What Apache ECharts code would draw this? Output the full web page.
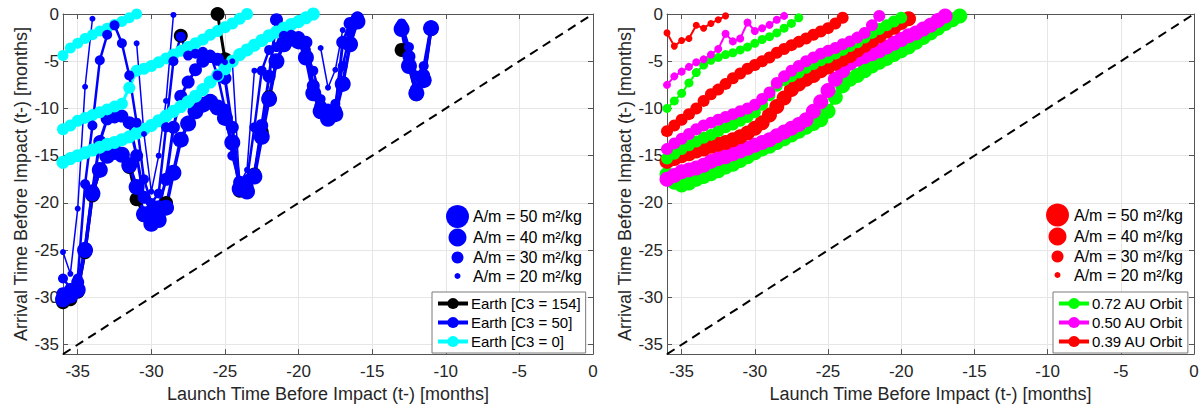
<!DOCTYPE html>
<html><head><meta charset="utf-8">
<script src="https://cdn.jsdelivr.net/npm/echarts@6/dist/echarts.min.js"></script>
<style>html,body{margin:0;padding:0;background:#fff}#c{width:1203px;height:408px}</style>
</head><body><div id="c"></div>
<script>
// ---------- data ----------
const launchLeft = [-36,-35.5,-35,-34.5,-34,-33.5,-33,-32.5,-32,-31.5,-31,-30.5,-30,-29.5,-29,-28.5,-28,-27.5,-27,-26.5,-26,-25.5,-25,-24.5,-24,-23.5,-23,-22.5,-22,-21.5,-21,-20.5,-20,-19.5,-19,-18.5,-18,-17.5,-17,-16.5,-16,-15.5,-15,-14.5,-14,-13.5,-13,-12.5,-12,-11.5,-11];
const launchRight = [-36,-35.5,-35,-34.5,-34,-33.5,-33,-32.5,-32,-31.5,-31,-30.5,-30,-29.5,-29,-28.5,-28,-27.5,-27,-26.5,-26,-25.5,-25,-24.5,-24,-23.5,-23,-22.5,-22,-21.5,-21,-20.5,-20,-19.5,-19,-18.5,-18,-17.5,-17,-16.5,-16];
const diagonal = [-36, 0];

// Left: Earth departures
const earthC3_0_a = [-4.4,-3.6,-3.1,-2.6,-2.2,-1.8,-1.5,-1.1,-0.8,-0.4,0.0];
const earthC3_0_b = [-12.2,-11.8,-11.3,-11.0,-10.7,-10.4,-10.1,-9.8,-9.5,-7.8,-6.0,-5.8,-5.5,-5.1,-4.7,-4.3,-3.9,-3.5,-3.1,-2.7,-2.2,-1.8,-1.4,-1.0,-0.5,0.0];
const earthC3_0_c = [-15.7,-15.3,-15.0,-14.7,-14.4,-14.1,-13.8,-13.6,-13.3,-13.0,-12.6,-12.2,-11.8,-11.3,-10.8,-10.3,-9.8,-9.3,-8.7,-8.0,-7.2,-6.5,-5.8,-5.0,-4.3,-3.8,-3.3,-2.8,-2.3,-1.9,-1.5,-1.1,-0.8,-0.4,0.0];
const earthC3_154 = [-30.5,-30.2,-29.4,-25.2,-19.2,-16.5,-15.0,-14.6,-14.9,-16.2,-19.6,-21.3,-22.0,-21.5,-20.0,null,-2.3,null,null,null,null,0.0,-4.8,null,-18.7,-18.6,-17.0,-12.5,-8.8,-5.0,null,null,null,null,null,null,null,null,null,null,null,null,null,null,null,null,-3.8,-5.5,-8.5,-7.0,-1.6];
const earthC3_50_am50 = [-30.2,-29.8,-29.2,-25.0,-19.0,-16.5,-15.0,-14.6,-14.9,-16.0,-18.3,-21.2,-22.2,-21.8,-20.5,-16.8,-13.3,-11.6,-10.3,-9.6,-9.3,-9.9,-11.0,-13.6,-18.5,-18.8,-17.2,-13.0,-9.0,-5.0,-3.2,-2.6,-2.9,-4.6,-8.4,-10.3,-11.1,-10.6,-7.4,-3.2,-0.8,null,null,null,null,null,-1.6,-5.5,-8.4,-7.0,-1.5];
const earthC3_50_am40 = [-29.6,-29.2,-28.4,-24.8,-18.7,-13.5,-11.1,-10.9,-10.8,-11.5,-15.0,-19.4,-20.8,-20.4,-17.5,-12.0,-8.7,-7.2,-5.9,-5.0,-4.5,-4.8,-6.8,-12.0,-17.8,-18.2,-17.0,-11.8,-6.6,-0.6,-2.6,-2.4,-2.5,-3.0,-7.6,-9.8,-10.7,-10.2,-3.0,-1.0,-0.4,null,null,null,null,null,-1.3,-4.5,-8.0,-6.5,-1.4];
const earthC3_50_am30 = [-28.0,-29.0,-28.0,-18.0,-11.8,-4.9,-2.2,-1.2,-3.1,-6.5,-11.5,-17.5,-20.0,-19.0,-12.0,-5.0,-2.4,-4.4,-4.2,-4.0,-4.3,-6.5,-10.0,-15.0,-18.0,-17.5,-12.0,-6.0,-3.8,-3.5,-2.3,-2.2,-2.5,-3.8,-6.0,-9.0,-10.0,-9.5,-5.5,-2.0,null,null,null,null,null,null,-1.0,-3.5,-6.5,-5.5,-1.2];
const earthC3_50_am20 = [-25.2,-27.5,-20.6,-7.7,-0.5,null,null,null,null,null,-3.1,-12.7,-18.8,-15.0,-9.2,-0.1,null,null,null,null,-4.2,-4.8,-5.1,-5.0,-18.0,-16.5,-6.0,null,null,null,null,null,null,null,null,-3.6,-7.8,-5.9,-1.7];

// Right: heliocentric orbits
const orbit039_am20 = [-2.0,-3.4,-2.8,-2.6,-1.2,-1.5,-1.0,-0.6,-0.2];
const orbit050_am20 = [-7.5,-6.6,-6.1,-5.6,-5.1,-4.8,-4.3,-3.7,-2.1,-2.9,-2.6,-0.9,-1.8,-1.5,-1.15,-0.6,-0.2];
const orbit072_am20 = [-10.0,-9.2,-8.4,-7.3,-6.2,-5.4,-4.9,-4.6,-4.3,-4.1,-3.8,-3.5,-3.1,-2.7,-2.4,-2.0,-1.5,-1.0,-0.4];
const orbit039_am30 = [-12.4,-11.8,-11.2,-10.6,-10.0,-9.2,-8.5,-8.0,-7.4,-6.8,-6.3,-5.8,-5.4,-5.0,-4.6,-4.1,-3.7,-3.3,-2.95,-2.6,-2.2,-1.85,-1.5,-1.0,-0.4];
const orbit050_am30 = [-14.3,-13.7,-13.2,-12.7,-12.2,-11.8,-11.5,-11.2,-10.9,-10.6,-10.3,-10.0,-9.6,-9.0,-8.3,-7.3,-6.6,-6.0,-5.5,-5.0,-4.6,-4.2,-3.9,-3.6,-3.2,-2.9,-2.5,-2.0,-1.2,-0.2];
const orbit072_am30 = [-15.3,-14.8,-14.3,-13.9,-13.5,-13.1,-12.8,-12.4,-12.0,-11.7,-11.3,-10.9,-10.4,-9.6,-8.6,-7.6,-7.0,-6.6,-6.2,-5.7,-5.3,-4.9,-4.6,-4.2,-3.8,-3.4,-3.0,-2.5,-2.0,-1.6,-1.2,-0.8,-0.4];
const orbit039_am40 = [-15.6,-15.3,-15.0,-14.8,-14.5,-14.3,-14.0,-13.8,-13.6,-13.3,-13.0,-12.6,-12.1,-11.5,-10.7,-9.8,-8.9,-8.0,-7.4,-6.9,-6.5,-6.0,-5.6,-5.2,-4.8,-4.4,-3.8,-3.3,-2.8,-2.3,-1.8,-1.4,-0.9,-0.5];
const orbit050_am40 = [-17.5,-17.1,-16.7,-16.5,-16.3,-16.0,-15.6,-15.3,-15.1,-14.8,-14.5,-14.2,-13.9,-13.6,-13.3,-12.9,-12.5,-12.1,-11.7,-11.2,-10.3,-9.3,-8.1,-6.9,-6.0,-5.2,-4.8,-4.5,-4.2,-3.9,-3.5,-3.1,-2.7,-2.3,-2.0,-1.6,-1.2,-0.7,-0.2];
const orbit072_am40 = [-17.0,-17.8,-18.1,-17.9,-17.5,-17.2,-16.9,-16.6,-16.2,-15.9,-15.5,-15.1,-14.7,-14.3,-14.0,-13.6,-13.2,-12.8,-12.4,-12.0,-11.6,-11.2,-10.3,-8.8,-7.6,-6.9,-6.5,-6.0,-5.5,-5.1,-4.7,-4.3,-3.9,-3.5,-3.0,-2.5,-2.0,-1.5,-1.0,-0.6,-0.2];

const sizeLegendLabels = ['A/m = 50 m²/kg','A/m = 40 m²/kg','A/m = 30 m²/kg','A/m = 20 m²/kg'];
const leftLegend = ['Earth [C3 = 154]','Earth [C3 = 50]','Earth [C3 = 0]'];
const rightLegend = ['0.72 AU Orbit','0.50 AU Orbit','0.39 AU Orbit'];

// ---------- chart ----------
const FONT = '"Liberation Sans", Arial, Helvetica, sans-serif';
const TXT = '#262626';
const chart = echarts.init(document.getElementById('c'), null, {renderer: 'svg'});

function ser(name, xs, ys, color, size, width, gi) {
  return {
    type: 'line', name: name, xAxisIndex: gi * 2, yAxisIndex: gi * 2,
    data: xs.map((x, i) => [x, (i < ys.length && ys[i] !== null) ? ys[i] : null]),
    symbol: 'circle', symbolSize: size, showSymbol: true, showAllSymbol: true,
    connectNulls: false, clip: false, silent: true,
    lineStyle: {color: color, width: width},
    itemStyle: {color: color},
    emphasis: {disabled: true}, animation: false
  };
}
function diag(gi) {
  return {type: 'line', xAxisIndex: gi * 2, yAxisIndex: gi * 2,
    data: diagonal.map(v => [v, v]), symbol: 'none', silent: true, clip: true,
    lineStyle: {color: '#000', width: 2, type: [9, 6]}, animation: false, z: 3};
}

function xAx(gi, bottom) {
  return {
    type: 'value', gridIndex: gi, position: bottom ? 'bottom' : 'top', min: -36, max: 0, splitNumber: 7,
    name: bottom ? 'Launch Time Before Impact (t-) [months]' : '', nameLocation: 'middle', nameGap: 29,
    nameTextStyle: {fontFamily: FONT, fontSize: 18, color: TXT},
    axisLine: {show: true, onZero: false, lineStyle: {color: '#555', width: 1}},
    axisTick: {show: true, inside: true, length: 5, lineStyle: {color: '#555'}},
    axisLabel: {show: bottom, showMinLabel: false, fontFamily: FONT, fontSize: 17, color: TXT, margin: 9},
    splitLine: {show: bottom, lineStyle: {color: '#e6e6e6', width: 1}}
  };
}
function yAx(gi, left) {
  return {
    type: 'value', gridIndex: gi, position: left ? 'left' : 'right', min: -36, max: 0, splitNumber: 7,
    name: left ? 'Arrival Time Before Impact (t-) [months]' : '', nameLocation: 'middle', nameGap: 33,
    nameTextStyle: {fontFamily: FONT, fontSize: 18, color: TXT},
    axisLine: {show: true, onZero: false, lineStyle: {color: '#555', width: 1}},
    axisTick: {show: true, inside: true, length: 5, lineStyle: {color: '#555'}},
    axisLabel: {show: left, showMinLabel: false, fontFamily: FONT, fontSize: 17, color: TXT, margin: 4},
    splitLine: {show: left, lineStyle: {color: '#e6e6e6', width: 1}}
  };
}

const BLUE = '#0000ff', CYAN = '#00ffff', BLACK = '#000000', GREEN = '#00ff00', MAG = '#ff00ff', RED = '#ff0000';

const series = [
  ser(leftLegend[0], launchLeft, earthC3_154, BLACK, 14, 3, 0),
  ser(leftLegend[1], launchLeft, earthC3_50_am50, BLUE, 16, 3.5, 0),
  ser(leftLegend[1], launchLeft, earthC3_50_am40, BLUE, 13, 3, 0),
  ser(leftLegend[2], launchLeft, earthC3_0_a, CYAN, 11, 3, 0),
  ser(leftLegend[2], launchLeft, earthC3_0_b, CYAN, 12, 3, 0),
  ser(leftLegend[2], launchLeft, earthC3_0_c, CYAN, 13, 3, 0),
  ser(leftLegend[1], launchLeft, earthC3_50_am30, BLUE, 10, 2.5, 0),
  ser(leftLegend[1], launchLeft, earthC3_50_am20, BLUE, 6, 1.5, 0),
  diag(0),
  ser(rightLegend[0], launchRight, orbit072_am40, GREEN, 15, 3.5, 1),
  ser(rightLegend[1], launchRight, orbit050_am40, MAG, 15, 3.5, 1),
  ser(rightLegend[2], launchRight, orbit039_am40, RED, 15, 3.5, 1),
  ser(rightLegend[0], launchRight, orbit072_am30, GREEN, 12, 3, 1),
  ser(rightLegend[1], launchRight, orbit050_am30, MAG, 12, 3, 1),
  ser(rightLegend[2], launchRight, orbit039_am30, RED, 12, 3, 1),
  ser(rightLegend[0], launchRight, orbit072_am20, GREEN, 9, 2, 1),
  ser(rightLegend[1], launchRight, orbit050_am20, MAG, 8, 2, 1),
  ser(rightLegend[2], launchRight, orbit039_am20, RED, 7, 2, 1),
  diag(1)
];

function legendBox(data, left) {
  return {
    data: data, orient: 'vertical', left: left, top: 292,
    itemWidth: 30, itemHeight: 14, itemGap: 4,
    padding: [4, 5, 4, 4],
    backgroundColor: '#fff', borderColor: '#7a7a7a', borderWidth: 1, borderRadius: 0,
    lineStyle: {width: 4},
    textStyle: {fontFamily: FONT, fontSize: 15, color: '#000', lineHeight: 15, padding: [0, 0, 0, -2]},
    selectedMode: false, z: 10
  };
}

function sizeLegend(cx, tx, ys, color) {
  const radii = [11.5, 9, 6, 3];
  const els = [];
  ys.forEach((y, i) => {
    els.push({type: 'circle', shape: {cx: cx, cy: y, r: radii[i]}, style: {fill: color}, z: 100, silent: true});
    els.push({type: 'text', x: tx, y: y, style: {text: sizeLegendLabels[i], fill: '#000', font: '16px ' + FONT, textVerticalAlign: 'middle', verticalAlign: 'middle'}, z: 100, silent: true});
  });
  return els;
}

const option = {
  animation: false,
  backgroundColor: '#fff',
  textStyle: {fontFamily: FONT},
  grid: [
    {left: 63, top: 14, width: 530, height: 345, containLabel: false},
    {left: 667, top: 14, width: 527, height: 345, containLabel: false}
  ],
  xAxis: [xAx(0, true), xAx(0, false), xAx(1, true), xAx(1, false)],
  yAxis: [yAx(0, true), yAx(0, false), yAx(1, true), yAx(1, false)],
  legend: [legendBox(leftLegend, 432), legendBox(rightLegend, 1053)],
  graphic: [].concat(
    sizeLegend(457.5, 473, [216.5, 237.5, 257.5, 276], BLUE),
    sizeLegend(1057.5, 1074, [215, 236.5, 256.5, 275], RED)
  ),
  series: series
};
chart.setOption(option);
</script>
</body></html>
